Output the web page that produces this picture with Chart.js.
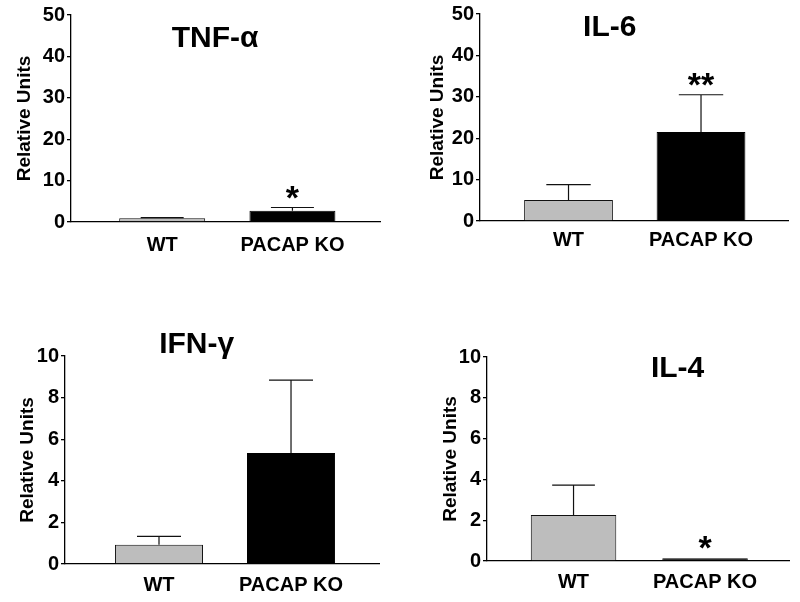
<!DOCTYPE html>
<html>
<head>
<meta charset="utf-8">
<script src="https://cdn.jsdelivr.net/npm/chart.js@4.4.0/dist/chart.umd.min.js"></script>
<style>
  body { margin: 0; background: #fff; }
  #page { position: relative; width: 800px; height: 602px; overflow: hidden; }
  canvas { position: absolute; }
</style>
</head>
<body>
<div id="page">
  <canvas id="tnf"></canvas>
  <canvas id="il6"></canvas>
  <canvas id="ifn"></canvas>
  <canvas id="il4"></canvas>
</div>
<script>
const categories = ["WT", "PACAP KO"];

const tnfMeans = [0.9, 2.7];
const tnfErrors = [0.15, 0.8];
const tnfStars = ["", "*"];

const il6Means = [5.1, 21.5];
const il6Errors = [3.7, 9.0];
const il6Stars = ["", "**"];

const ifnMeans = [0.93, 5.34];
const ifnErrors = [0.4, 3.5];
const ifnStars = ["", ""];

const il4Means = [2.25, 0.13];
const il4Errors = [1.47, 0];
const il4Stars = ["", "*"];

const topTicks = { max: 50, step: 10 };
const bottomTicks = { max: 10, step: 2 };

const FONT = '"Liberation Sans", Arial, Helvetica, sans-serif';
const barColors = ["#bdbdbd", "#000000"];
const barBorders = ["#111111", "#000000"];

// error bars, significance stars and the panel title
const extras = {
  id: "extras",
  afterDatasetsDraw(chart, args, opts) {
    const ctx = chart.ctx;
    const yScale = chart.scales.y;
    const meta = chart.getDatasetMeta(0);
    ctx.save();
    meta.data.forEach((bar, i) => {
      const topVal = opts.means[i] + opts.errors[i];
      const yTop = yScale.getPixelForValue(topVal);
      if (opts.errors[i] > 0) {
        const half = bar.width / 4;
        ctx.strokeStyle = "#111";
        ctx.lineWidth = 1.2;
        ctx.beginPath();
        ctx.moveTo(bar.x, bar.y);
        ctx.lineTo(bar.x, yTop);
        ctx.moveTo(bar.x - half, yTop);
        ctx.lineTo(bar.x + half, yTop);
        ctx.stroke();
      }
      if (opts.stars[i]) {
        ctx.fillStyle = "#000";
        ctx.font = "bold 34px " + FONT;
        ctx.textAlign = "center";
        ctx.textBaseline = "alphabetic";
        ctx.fillText(opts.stars[i], bar.x, yTop + 1);
      }
    });
    const a = chart.chartArea;
    ctx.fillStyle = "#000";
    ctx.font = "bold 30px " + FONT;
    ctx.textAlign = "center";
    ctx.textBaseline = "alphabetic";
    ctx.fillText(opts.title, a.left + a.width * opts.titleX, a.top + opts.titleY);
    ctx.restore();
  }
};

function makePanel(id, box, means, errors, stars, yTicks, title) {
  const canvas = document.getElementById(id);
  canvas.width = box.w;
  canvas.height = box.h;
  canvas.style.left = box.left + "px";
  canvas.style.top = box.top + "px";

  return new Chart(canvas.getContext("2d"), {
    type: "bar",
    data: {
      datasets: [{
        data: means.map((v, i) => ({ x: i + 1, y: v })),
        backgroundColor: barColors,
        borderColor: barBorders,
        borderWidth: 1,
        barPercentage: box.barPct,
        categoryPercentage: 1
      }]
    },
    plugins: [extras],
    options: {
      responsive: false,
      animation: false,
      devicePixelRatio: 1,
      layout: { padding: { top: box.padTop, left: 0, right: 0, bottom: 0 } },
      plugins: {
        legend: { display: false },
        tooltip: { enabled: false },
        extras: {
          means, errors, stars,
          title: title.text, titleX: title.x, titleY: title.y
        }
      },
      scales: {
        x: {
          type: "linear",
          min: box.xMin,
          max: box.xMax,
          offset: false,
          afterBuildTicks: s => { s.ticks = categories.map((c, i) => ({ value: i + 1 })); },
          afterFit: s => { s.height = 40; },
          grid: { display: false, drawTicks: false },
          border: { display: true, color: "#000", width: 1.3 },
          ticks: {
            callback: v => categories[v - 1] || "",
            color: "#000",
            padding: box.xPad,
            maxRotation: 0,
            font: { family: FONT, size: 20, weight: "bold" }
          }
        },
        y: {
          min: 0,
          max: yTicks.max,
          afterFit: s => { s.width = box.yw; },
          grid: { drawOnChartArea: false, drawTicks: true, tickLength: 4, color: "#000", lineWidth: 1.3 },
          border: { display: true, color: "#000", width: 1.3 },
          ticks: {
            stepSize: yTicks.step,
            color: "#000",
            padding: 2,
            font: { family: FONT, size: 20, weight: "bold" }
          },
          title: {
            display: true,
            text: "Relative Units",
            color: "#000",
            padding: 0,
            font: { family: FONT, size: 19, weight: "bold" }
          }
        }
      }
    }
  });
}

makePanel("tnf",
  { left: 13, top: 0, w: 368, h: 262, yw: 58, padTop: 15, xMin: 0.30, xMax: 2.68, barPct: 0.66, xPad: 11 },
  tnfMeans, tnfErrors, tnfStars, topTicks, { text: "TNF-α", x: 0.465, y: 32 });

makePanel("il6",
  { left: 426, top: 0, w: 363, h: 261, yw: 54, padTop: 13, xMin: 0.332, xMax: 2.664, barPct: 0.67, xPad: 7 },
  il6Means, il6Errors, il6Stars, topTicks, { text: "IL-6", x: 0.42, y: 22 });

makePanel("ifn",
  { left: 16, top: 320, w: 364, h: 284, yw: 49, padTop: 36, xMin: 0.288, xMax: 2.674, barPct: 0.667, xPad: 9 },
  ifnMeans, ifnErrors, ifnStars, bottomTicks, { text: "IFN-γ", x: 0.418, y: -3 });

makePanel("il4",
  { left: 439, top: 320, w: 351, h: 281, yw: 48, padTop: 37, xMin: 0.342, xMax: 2.646, barPct: 0.65, xPad: 9 },
  il4Means, il4Errors, il4Stars, bottomTicks, { text: "IL-4", x: 0.629, y: 20 });
</script>
</body>
</html>
